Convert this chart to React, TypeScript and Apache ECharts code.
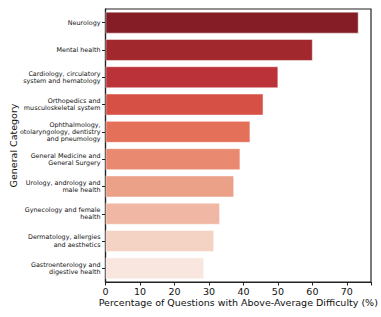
import React, { useEffect, useRef } from "react";
import * as echarts from "echarts";

const categories = [
  "Neurology",
  "Mental health",
  "Cardiology, circulatory\nsystem and hematology",
  "Orthopedics and\nmusculoskeletal system",
  "Ophthalmology,\notolaryngology, dentistry\nand pneumology",
  "General Medicine and\nGeneral Surgery",
  "Urology, andrology and\nmale health",
  "Gynecology and female\nhealth",
  "Dermatology, allergies\nand aesthetics",
  "Gastroenterology and\ndigestive health",
];
const values = [73.4, 60.1, 50.1, 45.8, 42.0, 39.1, 37.3, 33.2, 31.5, 28.6];
const colors = [
  "#841d25",
  "#a1282d",
  "#bb3338",
  "#d65046",
  "#e4705a",
  "#e98a70",
  "#eba088",
  "#f0b8a4",
  "#f4d3c5",
  "#f9e6df",
];
const xTicks = [0, 10, 20, 30, 40, 50, 60, 70];

export default function App() {
  const ref = useRef<HTMLDivElement>(null);
  useEffect(() => {
    document.body.style.margin = "0";
    if (!ref.current) return;
    const chart = echarts.init(ref.current, undefined, { renderer: "svg" });
    const font = "DejaVu Sans";
    chart.setOption({
      animation: false,
      grid: {
        left: 105.5,
        right: 10,
        top: 9,
        bottom: 35,
        containLabel: false,
        outerBoundsMode: "none",
        show: true,
        borderColor: "#222",
        borderWidth: 1.2,
        backgroundColor: "transparent",
      },
      xAxis: {
        type: "value",
        min: 0,
        max: 77,
        interval: 10,
        name: "Percentage of Questions with Above-Average Difficulty (%)",
        nameLocation: "middle",
        nameGap: 15.5,
        nameMoveOverlap: false,
        nameTextStyle: { fontFamily: font, fontSize: 9.5, color: "#111" },
        axisLine: { show: true, lineStyle: { color: "#222", width: 1.2 } },
        axisTick: { show: true, length: 3.5, lineStyle: { color: "#222" } },
        axisLabel: {
          fontFamily: font,
          fontSize: 9.5,
          color: "#111",
          margin: 4,
          formatter: (v: number) => (xTicks.includes(v) ? String(v) : ""),
        },
        splitLine: { show: false },
      },
      yAxis: {
        type: "category",
        inverse: true,
        data: categories,
        name: "General Category",
        nameLocation: "middle",
        nameGap: 87,
        nameMoveOverlap: false,
        nameRotate: 90,
        nameTextStyle: { fontFamily: font, fontSize: 9.5, color: "#111" },
        axisLine: { show: true, lineStyle: { color: "#222", width: 1.2 } },
        axisTick: { show: true, alignWithLabel: true, length: 3.5, lineStyle: { color: "#222" } },
        axisLabel: {
          fontFamily: font,
          fontSize: 6.4,
          lineHeight: 7.3,
          color: "#111",
          margin: 5,
          align: "right",
          interval: 0,
        },
      },
      series: [
        {
          type: "bar",
          data: values.map((v, i) => ({
            value: v,
            itemStyle: { color: colors[i] },
          })),
          barCategoryGap: "20%",
          itemStyle: { borderColor: "rgba(255,255,255,0.6)", borderWidth: 0.8 },
        },
      ],
    });
    return () => chart.dispose();
  }, []);
  return <div ref={ref} style={{ width: 381, height: 317 }} />;
}
